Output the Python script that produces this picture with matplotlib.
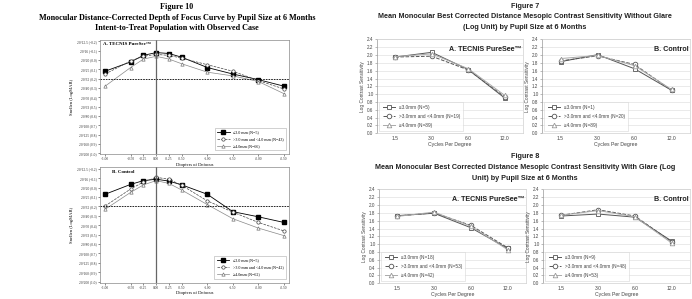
import numpy as np
import matplotlib.pyplot as plt

W, H = 692, 299

# ---- Figure 10 data (logMAR by defocus) ----
defocus = [1.00, 0.50, 0.25, 0.00, -0.25, -0.50, -1.00, -1.50, -2.00, -2.50]
defocus_labels = ["+1.00", "+0.50", "+0.25", "0.00", "-0.25", "-0.50",
                  "-1.00", "-1.50", "-2.00", "-2.50"]
a_small = [0.12, 0.02, -0.05, -0.08, -0.07, -0.03, 0.08, 0.15, 0.21, 0.28]
a_mid = [0.15, 0.01, -0.04, -0.06, -0.05, -0.02, 0.05, 0.12, 0.22, 0.31]
a_large = [0.28, 0.08, -0.01, -0.04, -0.01, 0.04, 0.13, 0.17, 0.23, 0.36]
b_small = [0.07, -0.035, -0.075, -0.09, -0.07, -0.03, 0.07, 0.255, 0.31, 0.37]
b_mid = [0.195, 0.014, -0.06, -0.11, -0.09, -0.025, 0.14, 0.26, 0.37, 0.46]
b_large = [0.23, 0.05, -0.03, -0.075, -0.045, 0.025, 0.18, 0.33, 0.43, 0.51]
logmar_ticks = [-0.2, -0.1, 0.0, 0.1, 0.2, 0.3, 0.4, 0.5, 0.6, 0.7, 0.8, 0.9, 1.0]
snellen = ["20/12.5", "20/16", "20/20", "20/25", "20/32", "20/40", "20/50",
           "20/63", "20/80", "20/100", "20/125", "20/160", "20/200"]
legA10 = ["≤3.0 mm (N=5)", ">3.0 mm and <4.0 mm (N=43)", "≥4.0mm (N=66)"]
legB10 = ["≤3.0 mm (N=5)", ">3.0 mm and <4.0 mm (N=42)", "≥4.0mm (N=62)"]

# ---- Figure 7 / 8 data (contrast sensitivity) ----
cpd = ["1.5", "3.0", "6.0", "12.0"]
f7a = {"sq": [1.95, 2.07, 1.63, 0.90], "ci": [1.95, 1.97, 1.62, 0.93], "tr": [1.96, 2.03, 1.65, 0.97]}
f7b = {"sq": [1.83, 2.01, 1.65, 1.10], "ci": [1.85, 1.98, 1.76, 1.10], "tr": [1.91, 1.99, 1.73, 1.12]}
f8a = {"sq": [1.73, 1.79, 1.42, 0.89], "ci": [1.72, 1.80, 1.48, 0.91], "tr": [1.71, 1.82, 1.46, 0.86]}
f8b = {"sq": [1.72, 1.77, 1.69, 1.08], "ci": [1.74, 1.88, 1.72, 1.06], "tr": [1.74, 1.86, 1.70, 1.03]}
n7a = ["5", "19", "89"]
n7b = ["1", "20", "89"]
n8a = ["18", "53", "42"]
n8b = ["9", "48", "53"]

SERIF = "Liberation Serif"
SANS = "Liberation Sans"


def rect(x0, y0, x1, y1):
    return [x0 / W, 1 - y1 / H, (x1 - x0) / W, (y1 - y0) / H]


fig = plt.figure(figsize=(W / 100, H / 100), dpi=100)
fig.patch.set_facecolor("white")


def defocus_panel(r, sq, ci, tr, labels, title, title_x):
    ax = fig.add_axes(r)
    ax.plot(defocus, sq, "-s", color="black", lw=0.6, ms=2.3, mfc="black", mec="black", label=labels[0])
    ax.plot(defocus, ci, "--o", color="#444444", lw=0.5, ms=2.4, mfc="white", mec="#444444", mew=0.5, label=labels[1])
    ax.plot(defocus, tr, "-^", color="#888888", lw=0.5, ms=2.4, mfc="white", mec="#777777", mew=0.5, label=labels[2])
    ax.axhline(0.2, color="black", ls=(0, (2, 1.2)), lw=0.6)
    ax.axvline(0.0, color="#666666", lw=0.9)
    ax.set_xlim(1.1, -2.6)
    ax.set_ylim(1.01, -0.22)
    ax.set_xticks(defocus)
    ax.set_xticklabels(defocus_labels, fontsize=2.6, family=SERIF)
    ax.set_yticks(logmar_ticks)
    ax.set_yticklabels(["%s (%.1f)" % (s, v) for s, v in zip(snellen, logmar_ticks)],
                       fontsize=2.6, family=SERIF)
    ax.tick_params(length=1.2, width=0.4, pad=1, colors="#333333")
    for s in ax.spines.values():
        s.set_linewidth(0.5)
        s.set_color("#888888")
    ax.set_xlabel("Diopters of Defocus", fontsize=3.3, family=SERIF, labelpad=1)
    ax.set_ylabel("Snellen (LogMAR)", fontsize=3.3, family=SERIF, labelpad=2)
    ax.text(title_x, -0.17, title, fontsize=3.6, family=SERIF, weight="bold", va="center")
    leg = ax.legend(loc="lower right", prop={"family": [SERIF, "DejaVu Sans"], "size": 3.0},
                    frameon=True, handlelength=3, borderpad=0.6, labelspacing=0.7,
                    fancybox=False, bbox_to_anchor=(0.995, 0.015))
    leg.get_frame().set_linewidth(0.4)
    leg.get_frame().set_edgecolor("#999999")
    return ax


defocus_panel(rect(100, 39.5, 289, 154.3), a_small, a_mid, a_large, legA10, "A. TECNIS PureSee™", 1.05)
defocus_panel(rect(100, 167, 289, 282.6), b_small, b_mid, b_large, legB10, "B. Control", 0.86)

tt = dict(ha="center", va="center", fontsize=5.9, family=SERIF, weight="bold")
fig.text(177 / W, 1 - 7 / H, "Figure 10", **tt)
fig.text(177 / W, 1 - 17.5 / H, "Monocular Distance-Corrected Depth of Focus Curve by Pupil Size at 6 Months", **tt)
fig.text(177 / W, 1 - 28 / H, "Intent-to-Treat Population with Observed Case", **tt)


def cs_panel(r, d, ns, title):
    ax = fig.add_axes(r)
    x = np.arange(len(cpd))
    ax.plot(x, d["sq"], "-s", color="#555555", lw=0.7, ms=3.3, mfc="white", mec="#555555", mew=0.6,
            label="≤3.0mm (N=%s)" % ns[0])
    ax.plot(x, d["ci"], "--o", color="#555555", lw=0.7, ms=3.3, mfc="white", mec="#555555", mew=0.6,
            label=">3.0mm and <4.0mm (N=%s)" % ns[1])
    ax.plot(x, d["tr"], "-^", color="#aaaaaa", lw=0.7, ms=3.3, mfc="white", mec="#999999", mew=0.6,
            label="≥4.0mm (N=%s)" % ns[2])
    ax.set_xlim(-0.5, 3.5)
    ax.set_ylim(0, 2.4)
    ax.set_xticks(x)
    ax.set_xticklabels(cpd, fontsize=3.6, family=SANS, color="#444444")
    yt = np.round(np.arange(0, 2.41, 0.2), 1)
    ax.set_yticks(yt)
    ax.set_yticklabels(["%.1f" % v for v in yt], fontsize=3.3, family=SANS, color="#444444")
    ax.grid(axis="y", color="#e2e2e2", lw=0.5)
    ax.set_axisbelow(True)
    ax.tick_params(axis="y", length=1.5, width=0.4, pad=1, colors="#888888", labelcolor="#444444")
    ax.tick_params(axis="x", length=0, pad=2)
    for s in ax.spines.values():
        s.set_linewidth(0.5)
        s.set_color("#d0d0d0")
    ax.spines["left"].set_color("#999999")
    ax.set_xlabel("Cycles Per Degree", fontsize=3.7, family=SANS, color="#444444", labelpad=1)
    ax.set_ylabel("Log Contrast Sensitivity", fontsize=3.4, family=SANS, color="#444444", labelpad=1.5)
    ax.text(0.99, 0.895, title, transform=ax.transAxes, ha="right", va="center",
            fontsize=5.1, family=SANS, weight="bold", color="#222222")
    leg = ax.legend(loc="lower left", prop={"family": [SANS, "DejaVu Sans"], "size": 3.4},
                    frameon=True, handlelength=2.6, borderpad=0.7, labelspacing=0.8,
                    fancybox=False, bbox_to_anchor=(0.0, 0.0))
    leg.get_frame().set_linewidth(0.4)
    leg.get_frame().set_edgecolor("#cccccc")
    for t in leg.get_texts():
        t.set_color("#444444")
    return ax


cs_panel(rect(377, 39.4, 523, 133.3), f7a, n7a, "A. TECNIS PureSee™")
cs_panel(rect(542, 39.4, 690, 133.3), f7b, n7b, "B. Control")
cs_panel(rect(379, 189.4, 526, 283.3), f8a, n8a, "A. TECNIS PureSee™")
cs_panel(rect(543, 189.4, 690, 283.3), f8b, n8b, "B. Control")

tk = dict(ha="center", va="center", fontsize=5.25, family=SANS, weight="bold", color="#222222")
fig.text(525 / W, 1 - 6 / H, "Figure 7", **tk)
fig.text(525 / W, 1 - 16.7 / H, "Mean Monocular Best Corrected Distance Mesopic Contrast Sensitivity Without Glare", **tk)
fig.text(525 / W, 1 - 27.3 / H, "(Log Unit) by Pupil Size at 6 Months", **tk)
fig.text(525 / W, 1 - 156.7 / H, "Figure 8", **tk)
fig.text(525 / W, 1 - 167.5 / H, "Mean Monocular Best Corrected Distance Mesopic Contrast Sensitivity With Glare (Log", **tk)
fig.text(525 / W, 1 - 178 / H, "Unit) by Pupil Size at 6 Months", **tk)

fig.savefig("out.png", dpi=100)
